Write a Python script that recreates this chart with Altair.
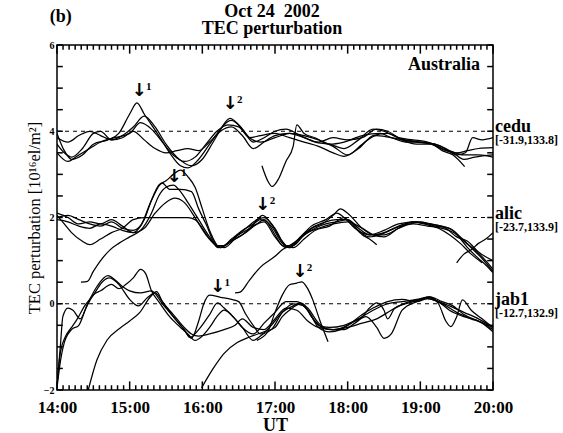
import altair as alt
import pandas as pd

# ---- data: (UT hour, TEC perturbation incl. station offset) ----
cedu_1 = [(14.0,3.95),(14.1,3.55),(14.2,3.35),(14.35,3.45),(14.5,3.7),(14.7,3.8),(14.85,3.95),(15.0,4.4),(15.1,4.66),(15.2,4.4),(15.4,3.9),(15.55,3.5),(15.7,3.2),(15.8,3.15),(15.95,3.35),(16.1,3.7),(16.25,4.05),(16.38,4.3),(16.5,4.15),(16.65,3.85),(16.8,3.75),(17.0,3.85),(17.2,3.95),(17.4,3.9),(17.6,3.8),(17.8,3.65),(18.0,3.45),(18.2,3.7),(18.4,3.9),(18.6,3.85),(18.8,3.75),(19.0,3.75),(19.2,3.7),(19.4,3.55),(19.6,3.45),(19.8,3.45),(20.0,3.4)]
cedu_2 = [(14.0,3.7),(14.1,3.5),(14.2,3.4),(14.35,3.6),(14.5,3.95),(14.6,4.0),(14.75,3.8),(14.9,3.9),(15.05,4.1),(15.2,4.35),(15.35,4.1),(15.5,3.7),(15.65,3.4),(15.85,3.2),(16.0,3.35),(16.15,3.75),(16.3,4.15),(16.4,4.25),(16.55,4.05),(16.7,3.75),(16.85,3.85),(17.0,4.0),(17.15,4.05),(17.35,3.9),(17.55,3.75),(17.75,3.7),(17.95,3.6),(18.15,3.8),(18.35,4.05),(18.5,4.0),(18.7,3.85),(18.9,3.8),(19.1,3.75),(19.3,3.6),(19.45,3.5),(19.6,3.35),(19.75,3.4),(20.0,3.45)]
cedu_3 = [(14.0,3.5),(14.15,3.3),(14.3,3.45),(14.45,3.6),(14.6,3.75),(14.8,3.85),(15.0,3.95),(15.15,4.2),(15.3,4.05),(15.45,3.75),(15.6,3.45),(15.75,3.3),(15.9,3.4),(16.05,3.7),(16.2,4.0),(16.35,4.15),(16.5,4.1),(16.65,3.85),(16.8,3.9),(17.0,3.95),(17.2,3.85),(17.4,3.75),(17.6,3.65),(17.8,3.5),(17.95,3.42),(18.15,3.6),(18.35,3.9),(18.55,3.95),(18.75,3.8),(18.95,3.75),(19.15,3.7),(19.35,3.55),(19.5,3.5),(19.65,3.55),(19.8,3.6),(20.0,3.62)]
cedu_4 = [(14.0,3.85),(14.15,3.75),(14.3,3.9),(14.45,4.0),(14.6,3.9),(14.75,3.8),(14.9,3.85),(15.05,4.0),(15.2,3.8),(15.35,3.6),(15.5,3.5),(15.65,3.55),(15.8,3.6),(15.95,3.55),(16.1,3.75),(16.25,4.0),(16.4,4.1),(16.55,3.9),(16.7,3.6),(16.85,3.75),(17.0,3.9),(17.2,3.95),(17.4,3.85),(17.6,3.75),(17.8,3.85),(18.0,3.8),(18.2,3.85),(18.4,4.05),(18.55,4.0),(18.75,3.8),(18.95,3.7),(19.15,3.7),(19.3,3.55),(19.45,3.45),(19.61,3.18)]
cedu_5 = [(16.82,3.2),(16.9,2.85),(16.96,2.72),(17.05,2.9),(17.15,3.3),(17.25,3.65),(17.3,4.15),(17.4,3.95),(17.55,3.85),(17.75,3.7),(17.95,3.75),(18.2,3.9),(18.45,3.95),(18.6,3.85),(18.8,3.8),(19.0,3.75),(19.2,3.7),(19.35,3.6),(19.5,3.45),(19.62,3.5),(19.72,3.85),(19.85,3.8),(20.0,3.85)]

alic_1 = [(14.0,2.0),(14.15,2.05),(14.3,1.95),(14.45,1.85),(14.6,1.8),(14.75,1.9),(14.9,1.75),(15.05,1.7),(15.2,1.95),(15.3,2.4),(15.4,2.75),(15.5,2.85),(15.6,3.0),(15.7,3.1),(15.8,2.95),(15.9,2.7),(16.0,2.2),(16.1,1.7),(16.25,1.3),(16.4,1.5),(16.55,1.7),(16.7,1.85),(16.83,2.05),(16.95,1.85),(17.1,1.45),(17.2,1.3),(17.35,1.55),(17.5,1.75),(17.65,1.85),(17.8,2.05),(17.9,2.2),(18.0,2.1),(18.2,1.75),(18.35,1.6),(18.5,1.65),(18.7,1.8),(18.9,1.9),(19.1,1.85),(19.3,1.8),(19.45,1.7),(19.6,1.45),(19.75,1.25),(19.9,1.0),(20.0,0.8)]
alic_2 = [(14.0,2.1),(14.15,2.0),(14.3,1.85),(14.45,1.9),(14.6,1.85),(14.75,1.95),(14.9,1.8),(15.05,1.65),(15.15,1.8),(15.3,2.4),(15.45,2.8),(15.55,2.65),(15.7,2.65),(15.85,2.6),(15.95,2.2),(16.05,1.85),(16.2,1.35),(16.3,1.35),(16.45,1.55),(16.6,1.75),(16.75,1.95),(16.85,2.0),(17.0,1.75),(17.15,1.35),(17.25,1.35),(17.4,1.6),(17.55,1.8),(17.7,1.9),(17.85,1.95),(18.0,1.95),(18.15,1.7),(18.3,1.55),(18.45,1.6),(18.65,1.75),(18.85,1.85),(19.0,1.9),(19.2,1.8),(19.4,1.75),(19.55,1.55),(19.7,1.3),(19.85,1.05),(20.0,0.75)]
alic_3 = [(14.0,1.95),(14.15,1.9),(14.3,1.8),(14.45,1.75),(14.6,1.85),(14.75,1.8),(14.9,1.7),(15.05,1.65),(15.2,1.75),(15.35,2.1),(15.5,2.35),(15.62,2.45),(15.75,2.35),(15.9,2.0),(16.05,1.6),(16.2,1.35),(16.3,1.3),(16.45,1.5),(16.6,1.65),(16.75,1.85),(16.85,1.95),(17.0,1.6),(17.1,1.35),(17.25,1.3),(17.4,1.5),(17.55,1.7),(17.75,1.8),(17.95,2.0),(18.05,1.85),(18.2,1.6),(18.3,1.5),(18.4,1.37)]
alic_4 = [(14.0,2.05),(14.1,1.85),(14.2,1.65),(14.35,1.45),(14.45,1.37),(14.6,1.5),(14.75,1.65),(14.9,1.75),(15.05,1.95),(15.2,2.0),(15.4,2.0),(15.6,2.0),(15.8,2.0),(15.9,1.95),(16.0,1.75),(16.1,1.5),(16.25,1.3),(16.4,1.45),(16.55,1.6),(16.7,1.8),(16.85,1.9),(17.0,1.55),(17.15,1.3),(17.3,1.45),(17.45,1.65),(17.6,1.75),(17.8,1.85),(18.0,1.9),(18.2,1.75),(18.35,1.6),(18.5,1.55),(18.7,1.75),(18.9,1.85),(19.1,1.8),(19.3,1.75),(19.5,1.6),(19.65,1.3),(19.8,1.05),(19.9,0.9),(20.0,0.72)]
alic_5 = [(14.33,0.5),(14.42,0.52),(14.5,0.75),(14.6,1.0),(14.73,1.25),(14.85,1.4),(15.0,1.55),(15.15,1.7),(15.3,2.1),(15.4,2.5),(15.5,2.7),(15.6,2.75),(15.7,2.6),(15.8,2.35),(15.95,1.95),(16.1,1.55),(16.22,1.3),(16.35,1.4),(16.5,1.6),(16.65,1.75),(16.8,1.95),(16.95,1.8),(17.1,1.4),(17.2,1.3),(17.35,1.55),(17.5,1.8),(17.7,1.95),(17.85,2.1),(17.95,2.0),(18.1,1.75),(18.3,1.6),(18.5,1.7),(18.7,1.85),(18.95,1.9),(19.15,1.85),(19.35,1.75),(19.5,1.55),(19.65,1.45),(19.8,1.2),(20.0,1.0)]
alic_6 = [(16.45,0.25),(16.52,0.27),(16.65,0.55),(16.8,0.85),(17.0,1.1),(17.1,1.25),(17.25,1.4),(17.4,1.6),(17.55,1.75),(17.7,1.85),(17.85,1.9),(18.0,1.95),(18.15,1.75),(18.3,1.6),(18.5,1.6),(18.7,1.75),(18.9,1.9),(19.05,1.85),(19.25,1.75),(19.4,1.6),(19.55,1.4),(19.7,1.15),(19.85,0.95)]
alic_7 = [(19.5,0.95),(19.6,1.15),(19.7,1.25),(19.8,1.4),(19.9,1.5),(20.0,1.65)]

jab1_1 = [(14.0,-1.9),(14.05,-0.9),(14.08,-0.3),(14.15,-0.1),(14.22,-0.15),(14.32,-0.35),(14.42,0.0),(14.55,0.4),(14.7,0.65),(14.8,0.55),(14.9,0.4),(15.0,0.3),(15.15,0.25),(15.3,0.3),(15.45,0.0),(15.6,-0.3),(15.75,-0.6),(15.85,-0.8),(15.95,-0.4),(16.02,0.0),(16.1,0.2),(16.25,0.15),(16.4,0.1),(16.5,0.05),(16.6,-0.25),(16.7,-0.5),(16.8,-0.7),(16.95,-0.6),(17.1,-0.2),(17.25,0.0),(17.4,-0.05),(17.5,-0.3),(17.65,-0.55),(17.8,-0.6),(18.0,-0.5),(18.2,-0.25),(18.35,-0.1),(18.55,0.05),(18.75,0.1),(18.95,0.05),(19.1,0.12),(19.25,0.05),(19.4,-0.05),(19.6,-0.2),(19.8,-0.35),(20.0,-0.55)]
jab1_2 = [(14.0,-1.95),(14.05,-1.3),(14.1,-0.9),(14.2,-0.6),(14.3,-0.5),(14.4,-0.1),(14.5,0.2),(14.6,0.3),(14.75,0.45),(14.85,0.35),(14.95,0.45),(15.05,0.6),(15.15,0.8),(15.22,0.7),(15.3,0.3),(15.4,0.05),(15.55,-0.3),(15.7,-0.55),(15.8,-0.7),(15.9,-0.85),(16.0,-0.75),(16.1,-0.55),(16.2,-0.3),(16.3,-0.15),(16.45,-0.35),(16.55,-0.55),(16.7,-0.85),(16.8,-0.75),(16.95,-0.5),(17.1,-0.2),(17.25,-0.05),(17.35,0.02),(17.45,-0.1),(17.6,-0.45),(17.75,-0.6),(17.95,-0.6),(18.1,-0.45),(18.25,-0.3),(18.4,-0.55),(18.5,-0.8),(18.6,-0.7),(18.75,-0.15),(18.95,0.05),(19.1,0.15),(19.25,0.05),(19.4,-0.15),(19.6,-0.3),(19.8,-0.4),(20.0,-0.6)]
jab1_3 = [(14.0,-1.85),(14.05,-1.1),(14.12,-0.75),(14.2,-0.55),(14.28,-0.35),(14.38,-0.05),(14.5,0.2),(14.62,0.5),(14.72,0.6),(14.85,0.45),(15.0,0.1),(15.12,-0.05),(15.25,0.15),(15.35,0.25),(15.45,0.05),(15.6,-0.3),(15.75,-0.6),(15.83,-0.78),(15.95,-0.6),(16.1,-0.25),(16.21,0.02),(16.3,-0.1),(16.45,-0.35),(16.55,-0.55),(16.7,-0.7),(16.85,-0.45),(17.0,-0.2),(17.15,0.05),(17.3,0.05),(17.45,-0.15),(17.6,-0.55),(17.75,-0.65),(17.9,-0.6),(18.05,-0.45),(18.2,-0.3),(18.3,-0.1),(18.4,0.02),(18.5,-0.15),(18.55,-0.35),(18.65,-0.1),(18.8,0.0),(19.0,0.1),(19.12,0.16),(19.25,0.0),(19.35,-0.4),(19.42,-0.53),(19.5,-0.3),(19.58,0.09),(19.7,-0.15),(19.85,-0.35),(20.0,-0.55)]
jab1_4 = [(14.43,-2.0),(14.55,-1.3),(14.69,-0.84),(14.87,-0.56),(15.0,-0.4),(15.14,-0.2),(15.28,0.15),(15.37,0.28),(15.45,0.05),(15.6,-0.25),(15.75,-0.55),(15.85,-0.7),(15.95,-0.75),(16.1,-0.7),(16.3,-0.6),(16.45,-0.5),(16.55,-0.35),(16.7,-0.55),(16.85,-0.6),(17.0,-0.35),(17.15,-0.1),(17.3,-0.15),(17.45,-0.4),(17.6,-0.55),(17.8,-0.6),(18.0,-0.55),(18.2,-0.45),(18.4,-0.35),(18.6,-0.15),(18.8,0.02),(19.0,0.1),(19.1,0.12),(19.3,0.0),(19.5,-0.2),(19.7,-0.35),(19.85,-0.45),(20.0,-0.65)]
jab1_5 = [(15.99,-1.95),(16.15,-1.5),(16.3,-1.15),(16.48,-0.9),(16.65,-0.77),(16.85,-0.65),(17.0,-0.55),(17.1,-0.3),(17.2,-0.15),(17.35,0.0),(17.45,-0.15),(17.6,-0.5),(17.75,-0.55),(17.95,-0.5),(18.15,-0.35),(18.35,-0.15),(18.55,0.0),(18.75,0.05),(18.95,0.1),(19.13,0.16),(19.3,0.05),(19.45,-0.05),(19.6,-0.25),(19.8,-0.4),(20.0,-0.55)]
jab1_6 = [(16.75,-0.85),(16.9,-0.65),(17.0,-0.2),(17.1,0.2),(17.2,0.44),(17.3,0.48),(17.37,0.51),(17.45,0.35),(17.52,0.09),(17.62,-0.4),(17.73,-0.88)]

stations = ["cedu", "alic", "jab1"]
station_levels = [4, 2, 0]
station_coords = ["[-31.9,133.8]", "[-23.7,133.9]", "[-12.7,132.9]"]

arrow_t = [15.13, 16.38, 15.61, 16.83, 16.21, 17.34]
arrow_v = [4.94, 4.64, 2.95, 2.30, 0.39, 0.74]
arrow_n = ["1", "2", "1", "2", "1", "2"]

hour_ticks = [14, 15, 16, 17, 18, 19, 20]
minute_ticks = list(range(0, 361, 5))
y_ticks = [-2, -1.5, -1, -0.5, 0, 0.5, 1, 1.5, 2, 2.5, 3, 3.5, 4, 4.5, 5, 5.5, 6]
y_labels = [-2, 0, 2, 4, 6]

# ---- build tables ----
all_lines = {
    "cedu_1": cedu_1, "cedu_2": cedu_2, "cedu_3": cedu_3, "cedu_4": cedu_4, "cedu_5": cedu_5,
    "alic_1": alic_1, "alic_2": alic_2, "alic_3": alic_3, "alic_4": alic_4, "alic_5": alic_5,
    "alic_6": alic_6, "alic_7": alic_7,
    "jab1_1": jab1_1, "jab1_2": jab1_2, "jab1_3": jab1_3, "jab1_4": jab1_4, "jab1_5": jab1_5,
    "jab1_6": jab1_6,
}
rows = []
for name, pts in all_lines.items():
    for t, v in pts:
        rows.append({"line": name, "t": t, "v": v})
df = pd.DataFrame(rows)

st_df = pd.DataFrame({"t": [20.0] * 3, "v": station_levels, "name": stations, "coord": station_coords})
arr_df = pd.DataFrame({"t": arrow_t, "v": arrow_v, "n": arrow_n})

# tick marks drawn as short rules (lengths are styling, in axis units)
YMIN, YMAX, XMIN, XMAX = -2, 6, 14, 20
MINOR_LEN, MAJOR_LEN = 0.11, 0.2       # vertical tick lengths (value units)
Y_TICK_LEN = 0.08                       # horizontal tick length (hours)
xt_rows = []
for m in minute_ticks:
    L = MAJOR_LEN if m % 60 == 0 else MINOR_LEN
    tt = XMIN + m / 60
    xt_rows.append({"t": tt, "t2": tt, "v": YMIN, "v2": YMIN + L})
    xt_rows.append({"t": tt, "t2": tt, "v": YMAX, "v2": YMAX - L})
xt_df = pd.DataFrame(xt_rows)
yt_rows = []
for yv in y_ticks:
    yt_rows.append({"t": XMIN, "t2": XMIN + Y_TICK_LEN, "v": yv, "v2": yv})
    yt_rows.append({"t": XMAX, "t2": XMAX - Y_TICK_LEN, "v": yv, "v2": yv})
yt_df = pd.DataFrame(yt_rows)
base_df = pd.DataFrame({"v": station_levels})

SERIF = "Liberation Serif"
W, H = 436, 345

xs = alt.Scale(domain=[XMIN, XMAX], nice=False, zero=False)
ys = alt.Scale(domain=[YMIN, YMAX], nice=False, zero=False)
x_axis = alt.Axis(values=hour_ticks, labelExpr="format(datum.value, 'd') + ':00'",
                  labelFont=SERIF, labelFontSize=17, labelFontWeight="bold", labelColor="black",
                  labelPadding=9, labelFlush=False, labelOverlap=False,
                  ticks=False, domain=False, grid=False,
                  title="UT", titleFont=SERIF, titleFontSize=18, titleFontWeight="bold",
                  titleColor="black", titleY=40, titleBaseline="alphabetic")
y_axis = alt.Axis(values=y_labels, format="d", labelFont=SERIF, labelFontSize=10,
                  labelFontWeight="bold", labelColor="black", labelPadding=3,
                  labelFlush=False, labelOverlap=False,
                  ticks=False, domain=False, grid=False,
                  title="TEC perturbation  [10¹⁶el/m²]", titleFont=SERIF, titleFontSize=16.5,
                  titleFontWeight="normal", titleColor="black", titleX=-23,
                  titleBaseline="middle")

X = alt.X("t:Q", scale=xs, axis=x_axis)
Y = alt.Y("v:Q", scale=ys, axis=y_axis)

lines = alt.Chart(df).mark_line(color="black", strokeWidth=1.25, clip=True,
                                interpolate="monotone").encode(x=X, y=Y, detail="line:N")

dashed = alt.Chart(base_df).mark_rule(color="black", strokeWidth=1,
                                      strokeDash=[4, 4]).encode(y=Y)

x_tick_marks = alt.Chart(xt_df).mark_rule(color="black", strokeWidth=1.5).encode(
    x=X, x2="t2:Q", y=Y, y2="v2:Q")
y_tick_marks = alt.Chart(yt_df).mark_rule(color="black", strokeWidth=1.5).encode(
    x=X, x2="t2:Q", y=Y, y2="v2:Q")

st_name = alt.Chart(st_df).mark_text(align="left", baseline="alphabetic", dx=2, dy=1,
                                     font=SERIF, fontSize=18, fontWeight="bold",
                                     color="black").encode(x=X, y=Y, text="name:N")
st_coord = alt.Chart(st_df).mark_text(align="left", baseline="alphabetic", dx=2, dy=13,
                                      font=SERIF, fontSize=12, fontWeight="bold",
                                      color="black").encode(x=X, y=Y, text="coord:N")

arrows = alt.Chart(arr_df).mark_text(align="center", baseline="middle", font="DejaVu Sans",
                                     fontSize=18, fontWeight="bold", color="black").encode(
    x=X, y=Y, text=alt.value("↓"))
arrow_num = alt.Chart(arr_df).mark_text(align="left", baseline="middle", dx=7, dy=-4,
                                        font=SERIF, fontSize=11, fontWeight="bold",
                                        color="black").encode(x=X, y=Y, text="n:N")

# titles / labels
lbl_text = ["(b)", "Oct 24\u00a0\u00a02002", "TEC perturbation", "Australia"]
lbl_t = [13.90, 16.96, 16.96, 19.82]
lbl_v = [6.54, 6.66, 6.25, 5.42]
lbl_align = ["left", "center", "center", "right"]
lbl_df = pd.DataFrame({"t": lbl_t, "v": lbl_v, "txt": lbl_text, "al": lbl_align})
labels_l = alt.Chart(lbl_df).transform_filter("datum.al == 'left'").mark_text(
    align="left", baseline="alphabetic", font=SERIF, fontSize=18, fontWeight="bold",
    color="black").encode(x=X, y=Y, text="txt:N")
labels_c = alt.Chart(lbl_df).transform_filter("datum.al == 'center'").mark_text(
    align="center", baseline="alphabetic", font=SERIF, fontSize=18, fontWeight="bold",
    color="black").encode(x=X, y=Y, text="txt:N")
labels_r = alt.Chart(lbl_df).transform_filter("datum.al == 'right'").mark_text(
    align="right", baseline="alphabetic", font=SERIF, fontSize=18, fontWeight="bold",
    color="black").encode(x=X, y=Y, text="txt:N")

chart = alt.layer(
    lines, dashed, x_tick_marks, y_tick_marks,
    st_name, st_coord, arrows, arrow_num, labels_l, labels_c, labels_r
).properties(
    width=W, height=H,
    autosize=alt.AutoSizeParams(type="none"),
    padding={"left": 57, "top": 45, "right": 70, "bottom": 43},
    background="white",
).configure_view(stroke="black", strokeWidth=1.5)

chart.save("out.html", embed_options={"renderer": "svg", "actions": False})
